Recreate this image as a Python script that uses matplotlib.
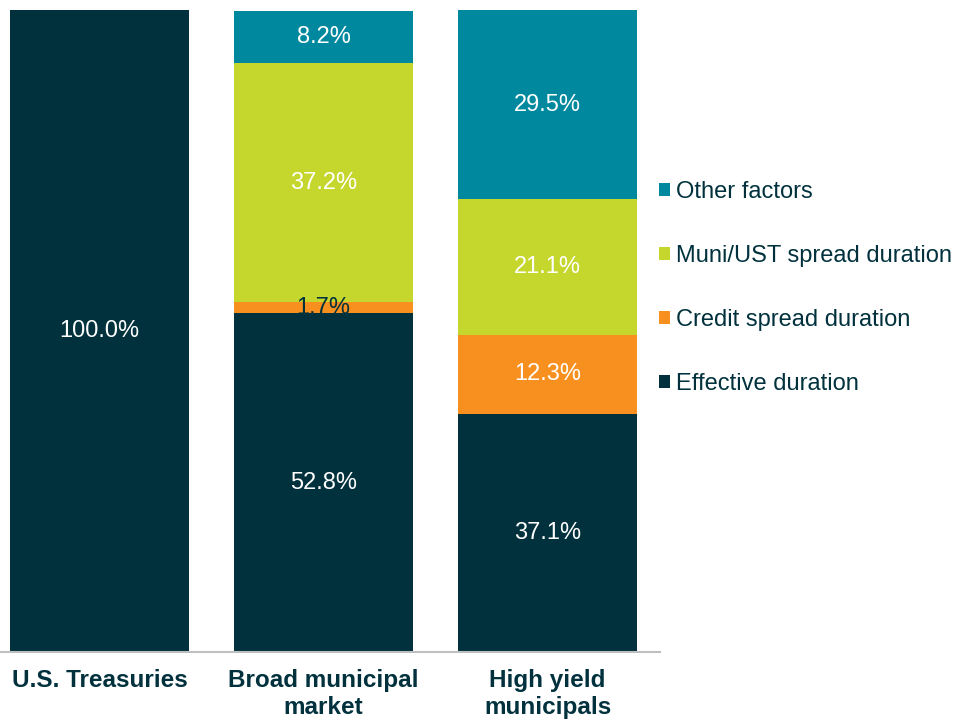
import matplotlib.pyplot as plt
import numpy as np

plt.rcParams['font.family'] = ['Liberation Sans', 'DejaVu Sans']

# Duration attribution by sector (%)
categories = ['U.S. Treasuries', 'Broad municipal\nmarket', 'High yield\nmunicipals']
effective = [100.0, 52.8, 37.1]
credit = [0.0, 1.7, 12.3]
muni_ust = [0.0, 37.2, 21.1]
other = [0.0, 8.2, 29.5]

text_col = '#00313D'
series = [
    ('Effective duration', effective, '#00313D'),
    ('Credit spread duration', credit, '#F7901E'),
    ('Muni/UST spread duration', muni_ust, '#C5D62D'),
    ('Other factors', other, '#00889E'),
]

fig = plt.figure(figsize=(9.57, 7.21), dpi=100)
ax = fig.add_axes([0, 69 / 721, 660 / 957, 642 / 721])

x = np.arange(len(categories))
bottom = np.zeros(len(categories))
handles = []
for name, vals, col in series:
    vals = np.array(vals)
    bars = ax.bar(x, vals, 0.8, bottom=bottom, color=col, label=name)
    handles.append(bars)
    for xi, v, b in zip(x, vals, bottom):
        if v > 0:
            # the thin slice label sits over dark text colour
            c = text_col if v < 5 else 'white'
            ax.text(xi, b + v / 2, f'{v:.1f}%', ha='center', va='center',
                    color=c, fontsize=17)
    bottom += vals

ax.set_xlim(-0.444, 2.502)
ax.set_ylim(0, 100)
ax.set_yticks([])
ax.set_xticks(x)
ax.set_xticklabels(categories, fontsize=17.5, fontweight='bold', color=text_col,
                   linespacing=1.22)
ax.tick_params(axis='x', length=0, pad=12)
for s in ['top', 'right', 'left']:
    ax.spines[s].set_visible(False)
ax.spines['bottom'].set_color('#BFBFBF')
ax.spines['bottom'].set_linewidth(1.5)

leg = fig.legend(handles[::-1], [s[0] for s in series][::-1],
                 loc='center left', bbox_to_anchor=(659 / 957, 1 - 288 / 721),
                 frameon=False, fontsize=17, handlelength=0.45, handleheight=0.45,
                 handletextpad=0.25, labelspacing=1.78, borderpad=0, borderaxespad=0)
for t in leg.get_texts():
    t.set_color(text_col)

plt.savefig('out.png', dpi=100)
